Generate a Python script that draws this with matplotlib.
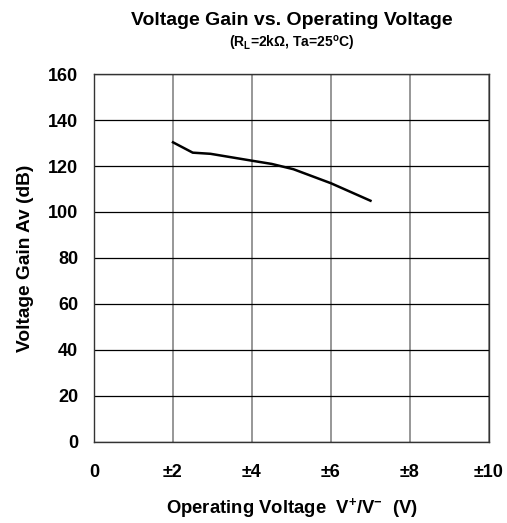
import matplotlib
matplotlib.use('Agg')
import matplotlib.pyplot as plt

plt.rcParams['font.family'] = ['Liberation Sans', 'DejaVu Sans']
plt.rcParams['mathtext.fontset'] = 'custom'
plt.rcParams['mathtext.bf'] = 'Liberation Sans:bold'
plt.rcParams['mathtext.rm'] = 'Liberation Sans:bold'
plt.rcParams['mathtext.default'] = 'bf'

# curve
voltage = [2.0, 2.5, 2.95, 4.0, 4.5, 5.05, 6.0, 7.0]
gain = [130.3, 125.8, 125.3, 122.3, 120.9, 118.6, 112.5, 104.9]

xticks = [0, 2, 4, 6, 8, 10]
xlabels = ['0', '±2', '±4', '±6', '±8', '±10']
yticks = [0, 20, 40, 60, 80, 100, 120, 140, 160]

fig = plt.figure(figsize=(5.07, 5.23), dpi=100)
ax = fig.add_axes([0.1854, 0.1549, 0.779, 0.7036])

ax.plot(voltage, gain, color='black', lw=1.8, zorder=3)

ax.set_xlim(0, 10)
ax.set_ylim(0, 160)
ax.set_xticks(xticks)
ax.set_xticklabels(xlabels)
ax.set_yticks(yticks)
ax.xaxis.grid(True, color='#7a7a7a', lw=1.1)
ax.yaxis.grid(True, color='#000000', lw=0.9)
ax.tick_params(length=0, labelsize=13)
ax.tick_params(axis='x', pad=16)
ax.tick_params(axis='y', pad=11.5)
for lab in ax.get_xticklabels() + ax.get_yticklabels():
    lab.set_fontweight('bold')
for s in ax.spines.values():
    s.set_color('#333333')
    s.set_linewidth(1)

ax.set_xlabel('Operating Voltage  V$^{+}$/V$^{-}$  (V)', fontsize=13.3,
              fontweight='bold', labelpad=11)
ax.set_ylabel('Voltage Gain Av (dB)', fontsize=13.8, fontweight='bold', labelpad=10)

fig.text(0.576, 0.961, 'Voltage Gain vs. Operating Voltage', ha='center', va='center',
         fontsize=14, fontweight='bold')
fig.text(0.576, 0.917, '(R$_{L}$=2kΩ, Ta=25$^{o}$C)', ha='center', va='center',
         fontsize=10, fontweight='bold')

fig.savefig('out.png', dpi=100)
